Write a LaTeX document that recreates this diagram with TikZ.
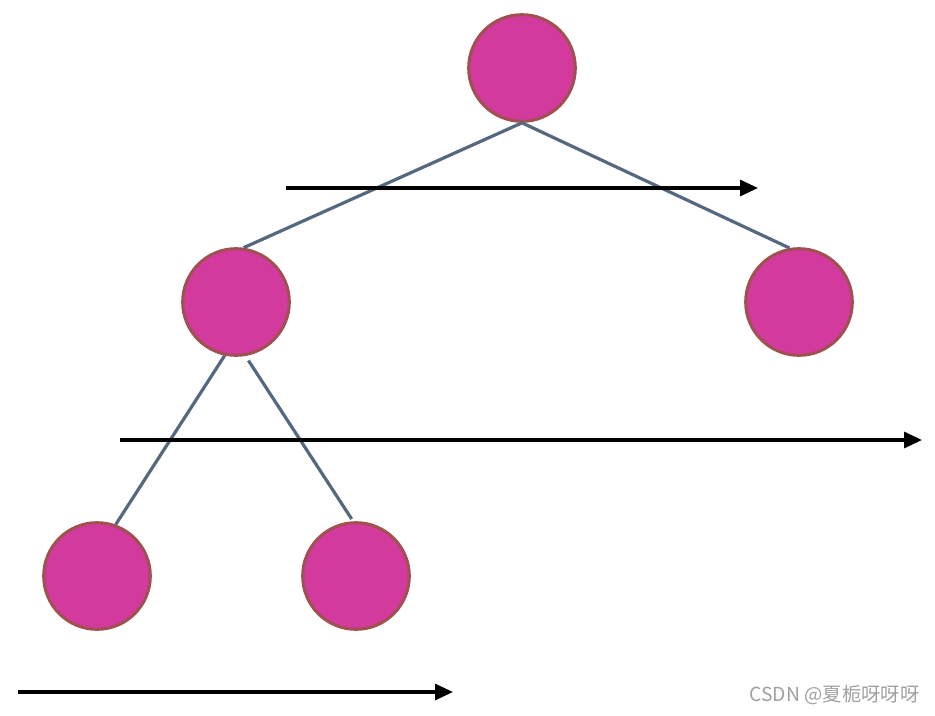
\documentclass[tikz,border=0pt]{standalone}
\usepackage{fontspec}
\newfontfamily\cjkfont{Noto Sans CJK SC}
\usetikzlibrary{arrows.meta}

\definecolor{nodefill}{RGB}{211,58,157}
\definecolor{nodeborder}{RGB}{160,80,78}
\definecolor{edgecol}{RGB}{84,104,127}
\definecolor{markgray}{RGB}{160,160,160}

\tikzset{every picture/.style={line width=0.75pt}}
\tikzset{
	treenode/.style={circle, draw=nodeborder, fill=nodefill, line width=2.25pt, minimum size=80pt, inner sep=0pt},
	treeedge/.style={draw=edgecol, line width=2.4pt},
	levelarrow/.style={draw=black, line width=2.4pt, -{Triangle[length=13.5pt, width=12pt]}}
}

\begin{document}
\begin{tikzpicture}[x=0.75pt,y=0.75pt,yscale=-1,xscale=1]
	\useasboundingbox (0,0) rectangle (935,715);

	%Shape: Circle [id:root]
	\node [treenode] (root) at (522,68) {};
	%Shape: Circle [id:left]
	\node [treenode] (left) at (236,302) {};
	%Shape: Circle [id:right]
	\node [treenode] (right) at (799,302) {};
	%Shape: Circle [id:leftleft]
	\node [treenode] (leftleft) at (97,576) {};
	%Shape: Circle [id:leftright]
	\node [treenode] (leftright) at (356,576) {};

	%Straight Lines [id:edges]
	\draw [treeedge] (root.south) -- (left.82);
	\draw [treeedge] (root.south) -- (right.100);
	\draw [treeedge] (left.258) -- (leftleft.70);
	\draw [treeedge, shorten <=4pt, shorten >=2pt] (left.-80) -- (leftright.93);

	%Straight Lines [id:arrows]
	\coordinate (a1s) at (286,188);
	\coordinate (a1e) at (758,188);
	\draw [levelarrow] (a1s) -- (a1e);
	\coordinate (a2s) at (120,440);
	\coordinate (a2e) at (922,440);
	\draw [levelarrow] (a2s) -- (a2e);
	\coordinate (a3s) at (18,692);
	\coordinate (a3e) at (453,692);
	\draw [levelarrow] (a3s) -- (a3e);

	% Text Node
	\node [anchor=east, text=markgray, font=\cjkfont\fontsize{14.5pt}{16pt}\selectfont, inner sep=0pt] (mark) at (920,695) {CSDN @夏栀呀呀呀};

\end{tikzpicture}
\end{document}
